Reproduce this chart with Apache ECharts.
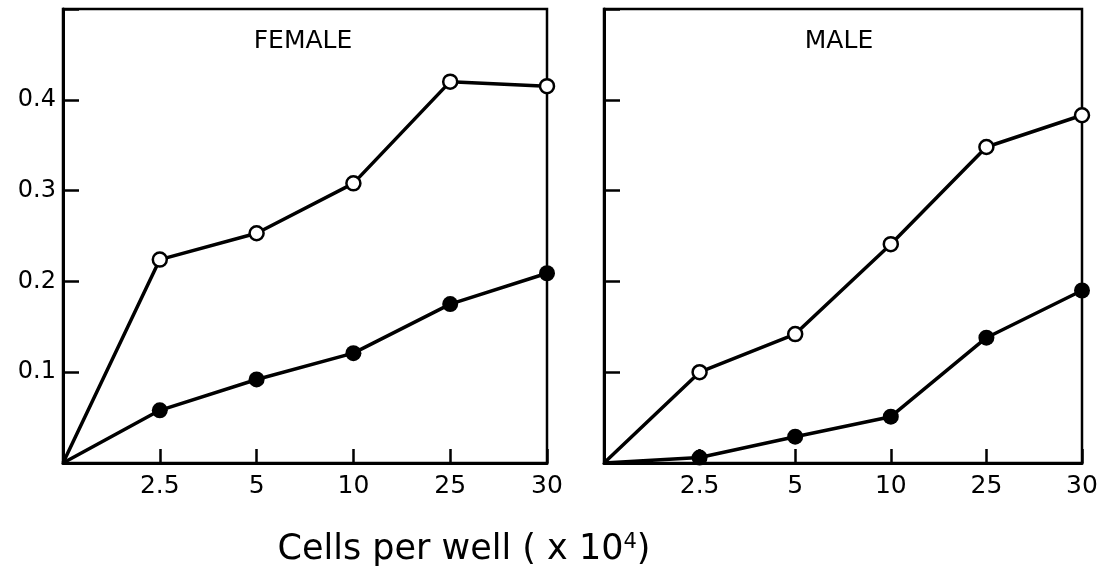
<!DOCTYPE html>
<html>
<head>
<meta charset="utf-8">
<script src="https://cdn.jsdelivr.net/npm/echarts@6/dist/echarts.min.js"></script>
<style>
  html, body { margin: 0; padding: 0; background: #fff; }
  #main { width: 1108px; height: 579px; }
</style>
</head>
<body>
<div id="main"></div>
<script>
  // x positions are evenly spaced categories; first one is the origin
  var cellCounts = ['0', '2.5', '5', '10', '25', '30'];
  var yTicks = [0.1, 0.2, 0.3, 0.4];

  // FEMALE panel
  var femaleOpen   = [0, 0.224, 0.253, 0.308, 0.420, 0.415];
  var femaleFilled = [0, 0.058, 0.092, 0.121, 0.175, 0.209];
  // MALE panel
  var maleOpen     = [0, 0.100, 0.142, 0.241, 0.348, 0.383];
  var maleFilled   = [0, 0.006, 0.029, 0.051, 0.138, 0.190];

  var font = 'DejaVu Sans';

  function toPoints(vals) {
    return vals.map(function (v, i) {
      if (i === 0) return { value: [i, v], symbol: 'none' };
      return [i, v];
    });
  }

  function xAxisFor(idx) {
    return {
      gridIndex: idx, type: 'value', min: 0, max: cellCounts.length - 1, interval: 1,
      axisLine: { lineStyle: { color: '#000', width: 3 } },
      axisTick: { inside: true, length: 14, lineStyle: { color: '#000', width: 2.5 } },
      axisLabel: {
        color: '#000', fontFamily: font, fontSize: 25, margin: 11,
        formatter: function (v) { return v === 0 ? '' : cellCounts[v]; }
      },
      splitLine: { show: false }
    };
  }

  function yAxisFor(idx, showLabels) {
    return {
      gridIndex: idx, type: 'value', min: 0, max: 0.5, interval: 0.1,
      axisLine: { lineStyle: { color: '#000', width: 3 } },
      axisTick: { inside: true, length: 16, lineStyle: { color: '#000', width: 2.5 } },
      axisLabel: {
        show: showLabels, color: '#000', fontFamily: font, fontSize: 24, margin: 7,
        formatter: function (v) {
          var r = Math.round(v * 10) / 10;
          return yTicks.indexOf(r) >= 0 ? r.toFixed(1) : '';
        }
      },
      splitLine: { show: false }
    };
  }

  function lineSeries(idx, vals, filled) {
    return {
      type: 'line', xAxisIndex: idx, yAxisIndex: idx,
      data: toPoints(vals),
      symbol: 'circle',
      symbolSize: filled ? 16 : 14,
      lineStyle: { color: '#000', width: 3.5 },
      itemStyle: filled
        ? { color: '#000', borderColor: '#000', borderWidth: 0 }
        : { color: '#fff', borderColor: '#000', borderWidth: 2.5 },
      z: filled ? 3 : 4,
      animation: false
    };
  }

  var chart = echarts.init(document.getElementById('main'));
  var option = {
    animation: false,
    backgroundColor: '#fff',
    title: [
      { text: 'FEMALE', left: 298, top: 24, textAlign: 'center',
        textStyle: { fontFamily: font, fontSize: 25, fontWeight: 'normal', color: '#000' } },
      { text: 'MALE', left: 834, top: 24, textAlign: 'center',
        textStyle: { fontFamily: font, fontSize: 25, fontWeight: 'normal', color: '#000' } },
      { text: '{t|Cells per well ( x 10}{s|4}{t|)}', left: 459, top: 527, textAlign: 'center',
        textStyle: { fontWeight: 'normal', rich: {
          t: { fontFamily: font, fontSize: 35, fontWeight: 'normal', color: '#000', verticalAlign: 'bottom' },
          s: { fontFamily: font, fontSize: 21, fontWeight: 'normal', color: '#000', verticalAlign: 'top' }
        } } }
    ],
    grid: [
      { left: 63, top: 9, width: 484, height: 454, show: true, borderColor: '#000', borderWidth: 2.5 },
      { left: 604, top: 9, width: 478, height: 454, show: true, borderColor: '#000', borderWidth: 2.5 }
    ],
    xAxis: [xAxisFor(0), xAxisFor(1)],
    yAxis: [yAxisFor(0, true), yAxisFor(1, false)],
    series: [
      lineSeries(0, femaleOpen, false),
      lineSeries(0, femaleFilled, true),
      lineSeries(1, maleOpen, false),
      lineSeries(1, maleFilled, true)
    ]
  };
  chart.setOption(option);
</script>
</body>
</html>
